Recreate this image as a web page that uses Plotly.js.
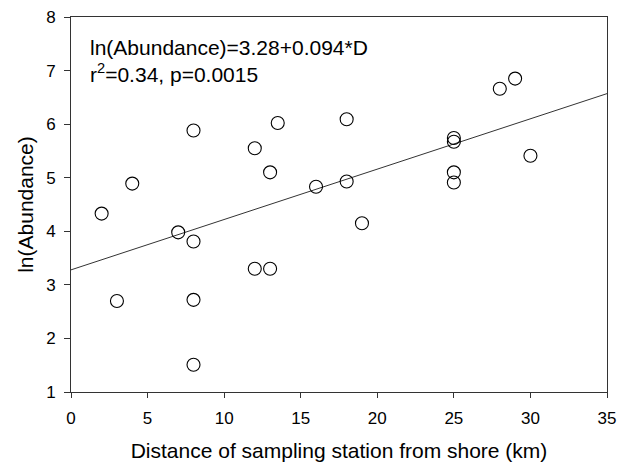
<!DOCTYPE html>
<html>
<head>
<meta charset="utf-8">
<script src="https://cdn.plot.ly/plotly-3.0.1.min.js"></script>
<style>html,body{margin:0;padding:0;background:#fff;}#chart{width:626px;height:462px;}</style>
</head>
<body>
<div id="chart"></div>
<script>
// Distance of sampling station from shore (km)
var distance = [2, 3, 4, 7, 8, 8, 8, 8, 12, 12, 13, 13, 13.5, 16, 18, 18, 19, 25, 25, 25, 25, 28, 29, 30];
// ln(Abundance)
var lnAbundance = [4.33, 2.70, 4.89, 3.98, 3.81, 5.88, 2.72, 1.51, 5.55, 3.30, 5.10, 3.30, 6.02, 4.83, 6.09, 4.93, 4.15, 5.74, 5.67, 5.10, 4.91, 6.66, 6.85, 5.41];
// Fitted regression line endpoints: ln(Abundance)=3.28+0.094*D
var fitX = [0, 35];
var fitY = [3.28, 6.57];
var xTicks = [0, 5, 10, 15, 20, 25, 30, 35];
var yTicks = [1, 2, 3, 4, 5, 6, 7, 8];

var font = 'Liberation Sans, Arial, Helvetica, sans-serif';

var traces = [
  {x: fitX, y: fitY, mode: 'lines', line: {color: '#333', width: 1}, hoverinfo: 'skip'},
  {x: distance, y: lnAbundance, mode: 'markers',
   marker: {symbol: 'circle-open', size: 13, color: '#000', line: {width: 1.1, color: '#000'}}}
];

var layout = {
  width: 626, height: 462,
  margin: {l: 71, r: 19, t: 17, b: 70},
  paper_bgcolor: '#fff', plot_bgcolor: '#fff',
  showlegend: false,
  font: {family: font, color: '#000', size: 17},
  xaxis: {
    range: [0, 35], tickvals: xTicks, ticktext: xTicks.map(String),
    showgrid: false, zeroline: false, showline: true, mirror: true,
    linecolor: '#333', linewidth: 1, ticks: 'outside', ticklen: 5, tickcolor: '#333',
    tickfont: {family: font, size: 17}, ticklabelstandoff: 6,
    title: {text: 'Distance of sampling station from shore (km)', font: {family: font, size: 21}, standoff: 17}
  },
  yaxis: {
    range: [1, 8], tickvals: yTicks, ticktext: yTicks.map(String),
    showgrid: false, zeroline: false, showline: true, mirror: true,
    linecolor: '#333', linewidth: 1, ticks: 'outside', ticklen: 6, tickcolor: '#333',
    tickfont: {family: font, size: 17}, ticklabelstandoff: 5,
    title: {text: 'ln(Abundance)', font: {family: font, size: 21}, standoff: 6}
  },
  annotations: [{
    xref: 'x', yref: 'y', x: 1.1, y: 7.68, xanchor: 'left', yanchor: 'top', align: 'left',
    showarrow: false,
    text: 'ln(Abundance)=3.28+0.094*D<br>r<sup>2</sup>=0.34, p=0.0015',
    font: {family: font, size: 21, color: '#000'}
  }]
};

Plotly.newPlot('chart', traces, layout, {displayModeBar: false, staticPlot: true});
</script>
</body>
</html>
